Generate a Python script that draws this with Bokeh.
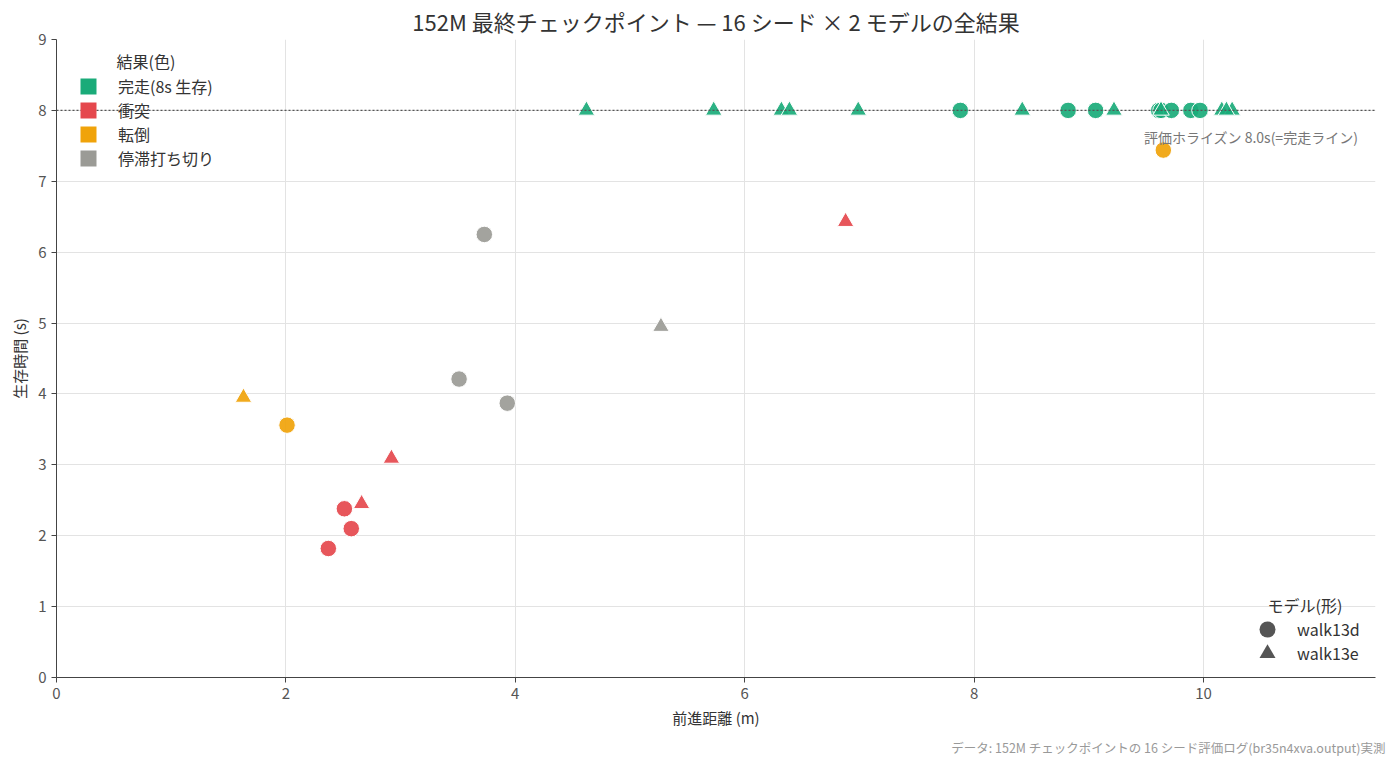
from bokeh.plotting import figure
from bokeh.models import ColumnDataSource, Legend, LegendItem, Span, Label, Range1d, Title
from bokeh.embed import file_html
from bokeh.resources import INLINE

FONT = "Noto Sans CJK JP"
NAN = float("nan")

# outcome categories (colour) and models (marker shape)
outcome_keys = ["finish", "crash", "fall", "stall"]
outcome_labels = ["完走(8s 生存)", "衝突", "転倒", "停滞打ち切り"]
outcome_colors = ["#1aab79", "#e5484d", "#f0a30a", "#9b9b96"]
model_names = ["walk13d", "walk13e"]
model_markers = ["circle", "triangle"]

# walk13d: 16 seeds
walk13d_distance = [7.88, 8.82, 9.06, 9.61, 9.63, 9.72, 9.89, 9.97,
                    9.65, 2.01, 3.73, 3.51, 3.93, 2.51, 2.57, 2.37]
walk13d_survival = [8.0, 8.0, 8.0, 8.0, 8.0, 8.0, 8.0, 8.0,
                    7.44, 3.56, 6.25, 4.21, 3.87, 2.38, 2.10, 1.82]
walk13d_outcome = ["finish"] * 8 + ["fall", "fall", "stall", "stall", "stall",
                                    "crash", "crash", "crash"]

# walk13e: 16 seeds
walk13e_distance = [4.62, 5.73, 6.32, 6.39, 6.99, 8.42, 9.22, 9.63, 10.16, 10.25,
                    10.20, 6.88, 2.92, 2.66, 1.63, 5.27]
walk13e_survival = [8.0, 8.0, 8.0, 8.0, 8.0, 8.0, 8.0, 8.0, 8.0, 8.0,
                    8.0, 6.43, 3.09, 2.45, 3.95, 4.95]
walk13e_outcome = ["finish"] * 11 + ["crash", "crash", "crash", "fall", "stall"]

horizon = 8.0

color_of = dict(zip(outcome_keys, outcome_colors))

p = figure(width=1390, height=766, x_range=Range1d(0, 11.5), y_range=Range1d(0, 9),
           output_backend="svg", toolbar_location=None,
           min_border_left=56, min_border_right=15, min_border_top=30, min_border_bottom=89)
p.outline_line_color = None
p.background_fill_color = "white"

p.title.text = "152M 最終チェックポイント — 16 シード × 2 モデルの全結果"
p.title.align = "center"
p.title.text_font = FONT
p.title.text_font_size = "22px"
p.title.text_font_style = "normal"
p.title.text_color = "#333333"
p.title.standoff = 5

p.yaxis.ticker = list(range(0, 10))
p.xaxis.ticker = [0, 2, 4, 6, 8, 10]
for ax in (p.xaxis, p.yaxis):
    ax.axis_line_color = "#444444"
    ax.major_tick_line_color = "#444444"
    ax.minor_tick_line_color = None
    ax.major_tick_in = 0
    ax.major_tick_out = 5
    ax.major_label_text_font = FONT
    ax.major_label_text_font_size = "15px"
    ax.major_label_text_color = "#555555"
    ax.axis_label_text_font = FONT
    ax.axis_label_text_font_size = "15px"
    ax.axis_label_text_font_style = "normal"
    ax.axis_label_text_color = "#333333"
p.xaxis.axis_label = "前進距離 (m)"
p.yaxis.axis_label = "生存時間 (s)"
p.grid.grid_line_color = "#e3e3e3"
p.grid.grid_line_width = 1

p.add_layout(Span(location=horizon, dimension="width", line_color="#555555",
                  line_dash="2 2", line_width=1.4))
p.add_layout(Label(x=11.35, y=7.62, text="評価ホライズン 8.0s(=完走ライン)",
                   text_align="right", text_baseline="middle", text_font=FONT,
                   text_font_size="14px", text_color="#777777"))

series = [(walk13d_distance, walk13d_survival, walk13d_outcome),
          (walk13e_distance, walk13e_survival, walk13e_outcome)]
for (xs, ys, outs), marker in zip(series, model_markers):
    src = ColumnDataSource(data=dict(x=xs, y=ys, color=[color_of[o] for o in outs]))
    p.scatter("x", "y", source=src, marker=marker, size=16.5, fill_color="color",
              fill_alpha=0.92, line_color="white", line_width=1)

# legend: outcome (colour)
color_items = []
for lab, col in zip(outcome_labels, outcome_colors):
    r = p.quad(left=[NAN], right=[NAN], top=[NAN], bottom=[NAN], fill_color=col,
               line_color=None)
    color_items.append(LegendItem(label=lab, renderers=[r]))
leg1 = Legend(items=color_items, location=(22, 507), glyph_width=20, glyph_height=20,
              label_height=20, spacing=0, label_standoff=20, padding=0,
              border_line_color=None, background_fill_color=None,
              label_text_font=FONT, label_text_font_size="16px", label_text_color="#333333")
p.add_layout(leg1)
p.add_layout(Label(x=60, y=617, x_units="screen", y_units="screen", text="結果(色)",
                   text_baseline="middle", text_font=FONT, text_font_size="16px",
                   text_color="#333333"))

# legend: model (shape), one small legend per model so the markers can be large
for name, marker, vy in zip(model_names, model_markers, [28, 4]):
    r = p.scatter([NAN], [NAN], marker=marker, size=16, fill_color="#555555", line_color=None)
    leg = Legend(items=[LegendItem(label=name, renderers=[r])], location=(1191, vy),
                 glyph_width=40, glyph_height=40, label_standoff=10, padding=0,
                 border_line_color=None, background_fill_color=None,
                 label_text_font=FONT, label_text_font_size="16px",
                 label_text_color="#333333")
    p.add_layout(leg)
p.add_layout(Label(x=1211, y=73, x_units="screen", y_units="screen", text="モデル(形)",
                   text_baseline="middle", text_font=FONT, text_font_size="16px",
                   text_color="#333333"))

p.add_layout(Title(text="データ: 152M チェックポイントの 16 シード評価ログ(br35n4xva.output)実測",
                   align="right", offset=-10, text_font=FONT, text_font_size="12.5px",
                   text_font_style="normal", text_color="#999999"), "below")

open("out.html", "w").write(file_html(p, INLINE))
